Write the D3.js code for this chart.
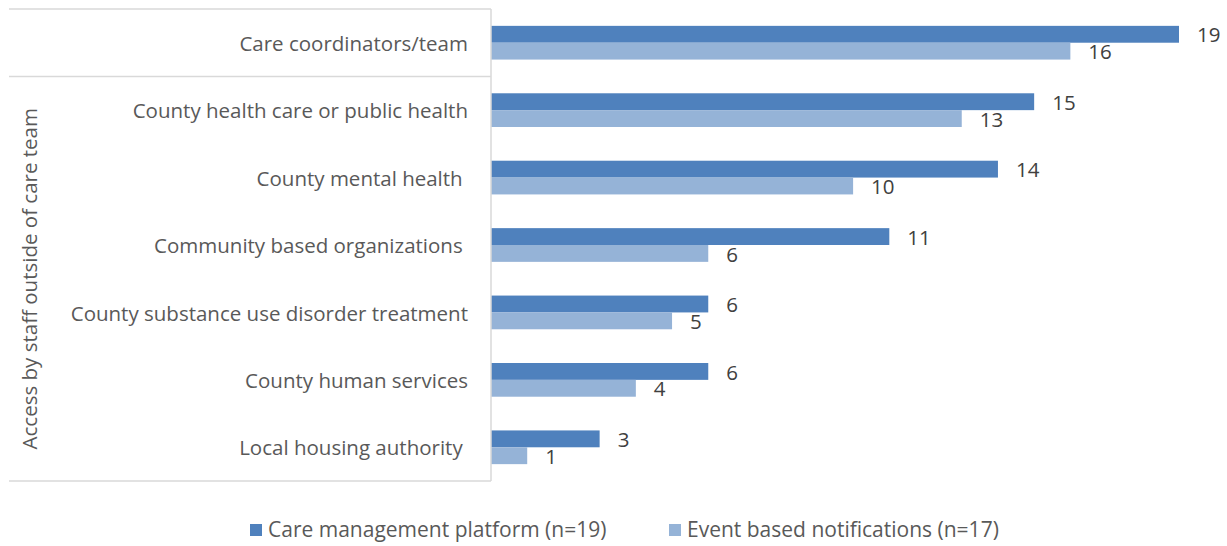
<!DOCTYPE html>
<html>
<head>
<meta charset="utf-8">
<script src="https://cdn.jsdelivr.net/npm/d3@7"></script>
<style>
  body { margin: 0; background: #fff; }
  svg text { font-family: "Open Sans", sans-serif; white-space: pre; }
</style>
</head>
<body>
<div id="chart"></div>
<script>
// chart data
var categories = [
  "Care coordinators/team",
  "County health care or public health",
  "County mental health ",
  "Community based organizations ",
  "County substance use disorder treatment",
  "County human services",
  "Local housing authority "
];
var platformValues = [19, 15, 14, 11, 6, 6, 3];
var notificationValues = [16, 13, 10, 6, 5, 4, 1];
var seriesNames = ["Care management platform (n=19)", "Event based notifications (n=17)"];
var groupTitle = "Access by staff outside of care team";
// first category sits outside the group
var groupStart = 1;

var svgWidth = 1227, svgHeight = 546;
var colors = ["#4f81bd", "#95b3d7"];

var svg = d3.select("#chart").append("svg")
  .attr("width", svgWidth)
  .attr("height", svgHeight);

var y = d3.scaleBand()
  .domain(categories)
  .range([9, 481])
  .paddingInner(0.5)
  .paddingOuter(0.25);

var x = d3.scaleLinear()
  .domain([0, 19])
  .range([491, 1179]);

var sub = d3.scaleBand()
  .domain([0, 1])
  .range([0, y.bandwidth()]);

var rows = categories.map(function(c, i) {
  return { cat: c, vals: [platformValues[i], notificationValues[i]] };
});

// bars
var g = svg.selectAll("g.row").data(rows).enter().append("g")
  .attr("class", "row")
  .attr("transform", d => `translate(0, ${y(d.cat)})`);

g.selectAll("rect").data(d => d.vals).enter().append("rect")
  .attr("x", x(0))
  .attr("y", (d, i) => sub(i))
  .attr("width", d => x(d) - x(0))
  .attr("height", sub.bandwidth())
  .attr("fill", (d, i) => colors[i]);

g.selectAll("text.val").data(d => d.vals).enter().append("text")
  .attr("class", "val")
  .attr("x", d => x(d) + 18)
  .attr("y", (d, i) => sub(i) + sub.bandwidth() / 2 + 1)
  .attr("dy", "0.35em")
  .style("font-size", "20.5px")
  .attr("fill", "#404040")
  .text(d => d);

// category axis with grouping lines
var axisColor = "#d9d9d9";
svg.append("line")
  .attr("x1", x(0)).attr("x2", x(0))
  .attr("y1", 9).attr("y2", 481)
  .attr("stroke", axisColor).attr("stroke-width", 1.5);

var step = y.step();
var sepYs = [9, y(categories[groupStart]) - step * 0.25, 481];
svg.selectAll("line.sep").data(sepYs).enter().append("line")
  .attr("class", "sep")
  .attr("x1", 9).attr("x2", x(0))
  .attr("y1", d => d).attr("y2", d => d)
  .attr("stroke", axisColor).attr("stroke-width", 1.5);

svg.selectAll("text.cat").data(categories).enter().append("text")
  .attr("class", "cat")
  .attr("x", 468)
  .attr("y", d => y(d) + y.bandwidth() / 2 + 1)
  .attr("dy", "0.35em")
  .attr("text-anchor", "end")
  .style("font-size", "20.5px")
  .attr("fill", "#595959")
  .text(d => d);

var gTop = sepYs[1], gBottom = 481;
svg.append("text")
  .attr("transform", `translate(30, ${(gTop + gBottom) / 2}) rotate(-90)`)
  .attr("text-anchor", "middle")
  .attr("dy", "0.35em")
  .style("font-size", "20.5px")
  .attr("fill", "#595959")
  .text(groupTitle);

// legend
var legendX = [250, 669];
var legend = svg.selectAll("g.legend").data(seriesNames).enter().append("g")
  .attr("class", "legend")
  .attr("transform", (d, i) => `translate(${legendX[i]}, 530)`);

legend.append("rect")
  .attr("x", 0).attr("y", -6)
  .attr("width", 12).attr("height", 12)
  .attr("fill", (d, i) => colors[i]);

legend.append("text")
  .attr("x", 18)
  .attr("dy", "0.35em")
  .style("font-size", "21px")
  .attr("fill", "#595959")
  .text(d => d);
</script>
</body>
</html>
